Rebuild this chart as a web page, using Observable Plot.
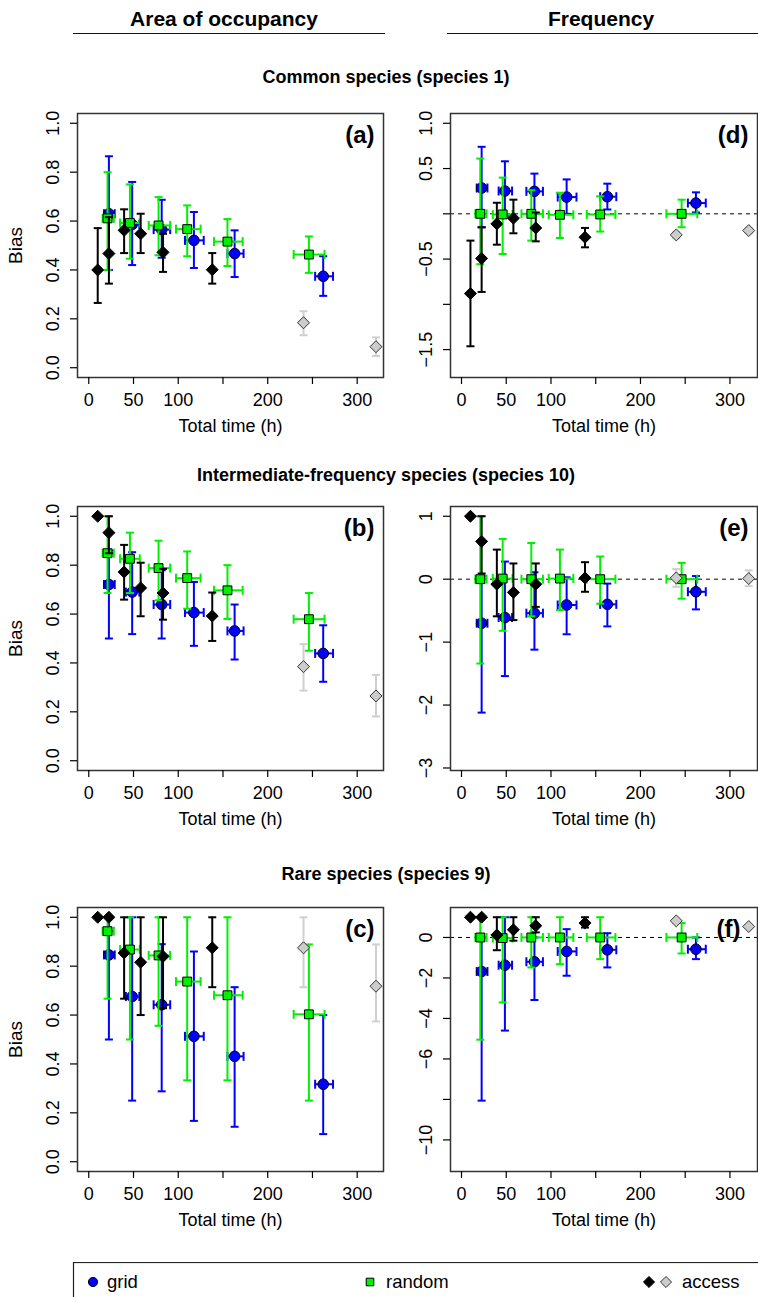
<!DOCTYPE html>
<html><head><meta charset="utf-8">
<script src="https://cdn.jsdelivr.net/npm/d3@7"></script>
<script src="https://cdn.jsdelivr.net/npm/@observablehq/plot@0.6"></script>
<style>
body{margin:0;background:#fff;}
#fig{position:relative;width:758px;height:1297px;font-family:"Liberation Sans",Arial,sans-serif;overflow:hidden;background:#fff;color:#000;}
</style></head><body><div id="fig"></div>
<script>
// ---------- data ----------
const colHeaders = ["Area of occupancy", "Frequency"];
const rowTitles = ["Common species (species 1)", "Intermediate-frequency species (species 10)", "Rare species (species 9)"];
const panelLetters = ["(a)", "(b)", "(c)", "(d)", "(e)", "(f)"];
const xTicks = [0, 50, 100, 150, 200, 250, 300];
const xTickLabels = [0, 50, 100, 200, 300];
const legendLabels = ["grid", "random", "access"];

// total time (h) per design
const gridTime = [22.5, 48.5, 81.5, 117.5, 163, 262];
const gridTimeLo = [17, 41.5, 72.5, 107.5, 155, 253];
const gridTimeHi = [29, 56.5, 91, 128.5, 173, 273];
const randomTime = [21, 46, 78, 110, 155, 246];
const randomTimeLo = [15.5, 35, 67, 97.5, 140, 229];
const randomTimeHi = [28, 57, 91, 125, 172, 263.5];
const accessTime = [10, 22.5, 39.5, 58, 83, 138, 240, 321];
const accessGrey = [false, false, false, false, false, false, true, true];

// (a) area of occupancy, common species
const gridA = [0.63, 0.586, 0.565, 0.521, 0.467, 0.374];
const gridALo = [0.40, 0.42, 0.45, 0.408, 0.371, 0.294];
const gridAHi = [0.865, 0.76, 0.687, 0.637, 0.562, 0.456];
const randomA = [0.611, 0.592, 0.582, 0.567, 0.516, 0.463];
const randomALo = [0.40, 0.446, 0.46, 0.456, 0.416, 0.388];
const randomAHi = [0.80, 0.75, 0.698, 0.664, 0.608, 0.537];
const accessA = [0.40, 0.467, 0.562, 0.548, 0.472, 0.401, 0.184, 0.086];
const accessALo = [0.265, 0.344, 0.469, 0.469, 0.392, 0.344, 0.133, 0.048];
const accessAHi = [0.571, 0.616, 0.648, 0.63, 0.548, 0.469, 0.231, 0.124];

// (b) area of occupancy, intermediate species
const gridB = [0.721, 0.69, 0.639, 0.606, 0.531, 0.439];
const gridBLo = [0.50, 0.518, 0.50, 0.47, 0.414, 0.323];
const gridBHi = [0.86, 0.853, 0.779, 0.731, 0.639, 0.554];
const randomB = [0.849, 0.826, 0.788, 0.747, 0.697, 0.579];
const randomBLo = [0.686, 0.686, 0.656, 0.622, 0.58, 0.45];
const randomBHi = [1.0, 0.933, 0.90, 0.856, 0.80, 0.686];
const accessB = [1.0, 0.933, 0.772, 0.707, 0.686, 0.592, 0.385, 0.265];
const accessBLo = [1.0, 0.849, 0.659, 0.591, 0.577, 0.49, 0.287, 0.181];
const accessBHi = [1.0, 1.0, 0.883, 0.81, 0.785, 0.688, 0.477, 0.351];

// (c) area of occupancy, rare species
const gridC = [0.846, 0.676, 0.642, 0.513, 0.431, 0.317];
const gridCLo = [0.50, 0.25, 0.288, 0.167, 0.143, 0.113];
const gridCHi = [1.0, 1.0, 0.89, 0.86, 0.714, 0.60];
const randomC = [0.943, 0.868, 0.844, 0.737, 0.681, 0.603];
const randomCLo = [0.667, 0.50, 0.556, 0.333, 0.333, 0.25];
const randomCHi = [1.0, 1.0, 1.0, 1.0, 1.0, 0.889];
const accessC = [1.0, 1.0, 0.854, 0.816, 0.84, 0.875, 0.875, 0.718];
const accessCLo = [1.0, 1.0, 0.667, 0.60, 0.628, 0.714, 0.714, 0.574];
const accessCHi = [1.0, 1.0, 1.0, 1.0, 1.0, 1.0, 1.0, 0.889];

// (d) frequency, common species
const gridD = [0.285, 0.252, 0.248, 0.185, 0.189, 0.119];
const gridDLo = [-0.15, -0.02, 0.0, 0.0, 0.048, 0.015];
const gridDHi = [0.74, 0.58, 0.444, 0.38, 0.333, 0.237];
const randomD = [0.0, -0.007, 0.0, -0.011, -0.007, 0.0];
const randomDLo = [-0.556, -0.444, -0.296, -0.267, -0.196, -0.148];
const randomDHi = [0.61, 0.40, 0.26, 0.233, 0.193, 0.156];
const accessD = [-0.881, -0.493, -0.111, -0.048, -0.156, -0.259, -0.233, -0.185];
const accessDLo = [-1.463, -0.863, -0.341, -0.215, -0.304, -0.37, -0.27, -0.215];
const accessDHi = [-0.296, -0.148, 0.122, 0.156, 0.015, -0.156, -0.2, -0.155];

// (e) frequency, intermediate species
const gridE = [-0.70, -0.61, -0.54, -0.41, -0.40, -0.20];
const gridELo = [-2.12, -1.54, -1.12, -0.875, -0.75, -0.48];
const gridEHi = [0.05, 0.28, 0.11, 0.03, -0.07, 0.05];
const randomE = [0, 0.01, 0, 0.01, 0, 0];
const randomELo = [-1.34, -0.82, -0.59, -0.49, -0.39, -0.31];
const randomEHi = [1.0, 0.64, 0.575, 0.47, 0.36, 0.26];
const accessE = [1.0, 0.60, -0.08, -0.21, -0.08, 0.02, 0.02, 0.01];
const accessELo = [1.0, 0.09, -0.59, -0.65, -0.44, -0.20, -0.12, -0.11];
const accessEHi = [1.0, 1.0, 0.47, 0.25, 0.25, 0.27, 0.16, 0.14];

// (f) frequency, rare species
const gridF = [-1.68, -1.37, -1.2, -0.69, -0.61, -0.58];
const gridFLo = [-8.06, -4.6, -3.09, -1.89, -1.48, -1.07];
const gridFHi = [0.0, 1.0, 0.0, 0.41, 0.21, 0.0];
const randomF = [0, -0.03, 0, 0, 0, 0];
const randomFLo = [-5.05, -3.21, -1.48, -1.32, -1.07, -0.79];
const randomFHi = [1.0, 1.0, 1.0, 1.0, 1.0, 0.71];
const accessF = [1.0, 1.0, 0.12, 0.38, 0.58, 0.71, 0.82, 0.54];
const accessFLo = [1.0, 1.0, -0.63, -0.16, 0.25, 0.49, 0.75, 0.48];
const accessFHi = [1.0, 1.0, 1.0, 1.0, 1.0, 1.0, 0.9, 0.6];

// y axes
const yTicksAOO = [0, 0.2, 0.4, 0.6, 0.8, 1.0];
const yTicksD = [-1.5, -1, -0.5, 0, 0.5, 1];
const yLabelsD = [-1.5, -0.5, 0.5, 1];
const yTicksE = [-3, -2, -1, 0, 1];
const yTicksF = [-10, -8, -6, -4, -2, 0];
const yLabelsF = [-10, -6, -4, -2, 0];

// ---------- styles ----------
const BLUE = "#0000ff", GREEN = "#00f000", GREY = "#cfcfcf";
const fmtMinus = s => s.replace("-", "\u2212");
const hcap = {draw(ctx, size) { const r = Math.sqrt(size / Math.PI); ctx.moveTo(-r, 0); ctx.lineTo(r, 0); }};
const vcap = {draw(ctx, size) { const r = Math.sqrt(size / Math.PI); ctx.moveTo(0, -r); ctx.lineTo(0, r); }};

const fig = document.getElementById("fig");
function addText(txt, x, y, size, bold) {
  const d = document.createElement("div");
  d.textContent = txt;
  d.style.cssText = `position:absolute;left:${x}px;top:${y}px;transform:translate(-50%,-50%);font-size:${size}px;font-weight:${bold ? "bold" : "normal"};white-space:nowrap;line-height:1;`;
  fig.appendChild(d);
}
function addLine(x1, x2, y) {
  const d = document.createElement("div");
  d.style.cssText = `position:absolute;left:${x1}px;top:${y}px;width:${x2 - x1}px;height:0;border-top:1.5px solid #111;`;
  fig.appendChild(d);
}

function series(time, lo, hi, v, vlo, vhi) {
  return time.map((t, i) => ({t, tlo: lo ? lo[i] : t, thi: hi ? hi[i] : t, v: v[i], lo: vlo[i], hi: vhi[i]}));
}

function errMarks(rows, color, withH) {
  const vb = rows.filter(d => d.hi - d.lo > 1e-9);
  const m = [
    Plot.ruleX(vb, {x: "t", y1: "lo", y2: "hi", stroke: color, strokeWidth: 2}),
    Plot.dot(vb, {x: "t", y: "lo", symbol: hcap, r: 4, stroke: color, fill: "none", strokeWidth: 2}),
    Plot.dot(vb, {x: "t", y: "hi", symbol: hcap, r: 4, stroke: color, fill: "none", strokeWidth: 2})
  ];
  if (withH) {
    m.push(
      Plot.ruleY(rows, {y: "v", x1: "tlo", x2: "thi", stroke: color, strokeWidth: 2}),
      Plot.dot(rows, {x: "tlo", y: "v", symbol: vcap, r: 4.5, stroke: color, fill: "none", strokeWidth: 2}),
      Plot.dot(rows, {x: "thi", y: "v", symbol: vcap, r: 4.5, stroke: color, fill: "none", strokeWidth: 2})
    );
  }
  return m;
}

function panel(cfg) {
  const left = cfg.col === 0;
  const grid = series(gridTime, gridTimeLo, gridTimeHi, cfg.g, cfg.gLo, cfg.gHi);
  const rand = series(randomTime, randomTimeLo, randomTimeHi, cfg.r, cfg.rLo, cfg.rHi);
  const acc = series(accessTime, null, null, cfg.a, cfg.aLo, cfg.aHi).map((d, i) => ({...d, grey: accessGrey[i]}));
  const accBlack = acc.filter(d => !d.grey), accGrey = acc.filter(d => d.grey);
  const marks = [
    cfg.freq ? Plot.ruleY([0], {stroke: "#000", strokeWidth: 1, strokeDasharray: "4,4"}) : null,
    ...errMarks(grid, BLUE, true),
    Plot.dot(grid, {x: "t", y: "v", symbol: "circle", r: 5.3, fill: BLUE, stroke: "#000", strokeWidth: 1}),
    ...errMarks(rand, GREEN, true),
    Plot.dot(rand, {x: "t", y: "v", symbol: "square", r: 5, fill: GREEN, stroke: "#000", strokeWidth: 1}),
    ...errMarks(accBlack, "#000", false),
    ...errMarks(accGrey, GREY, false),
    Plot.dot(accBlack, {x: "t", y: "v", symbol: "diamond2", r: 5.4, fill: "#000", stroke: "#000", strokeWidth: 1}),
    Plot.dot(accGrey, {x: "t", y: "v", symbol: "diamond2", r: 5.4, fill: "#cccccc", stroke: "#333", strokeWidth: 1}),
    Plot.frame({stroke: "#333", strokeWidth: 1.5}),
    Plot.axisX({ticks: xTicks, tickFormat: d => xTickLabels.includes(d) ? String(d) : "", tickSize: 7, tickPadding: 9, label: null, fontSize: 18, strokeWidth: 1.2}),
    Plot.axisY({ticks: cfg.yTicks, tickFormat: () => "", tickSize: 7, label: null, strokeWidth: 1.2}),
    Plot.text(cfg.yLabels, {y: d => d, text: cfg.yFmt, frameAnchor: "left", dx: -24, rotate: -90, textAnchor: "middle", lineAnchor: "middle", fontSize: 18}),
    Plot.text(["Total time (h)"], {frameAnchor: "bottom", dy: 49, lineAnchor: "middle", fontSize: 18}),
    left ? Plot.text(["Bias"], {frameAnchor: "left", dx: -62, rotate: -90, textAnchor: "middle", lineAnchor: "middle", fontSize: 19}) : null,
    Plot.text([cfg.letter], {frameAnchor: "top-right", dx: cfg.letterDx ?? -9, dy: 22, textAnchor: "end", lineAnchor: "middle", fontSize: 24, fontWeight: "bold"})
  ].filter(Boolean);
  const svg = Plot.plot({
    width: left ? 385 : 378,
    height: 337,
    marginLeft: left ? 77 : 70,
    marginRight: left ? 2 : 1,
    marginTop: 13,
    marginBottom: 60,
    x: {domain: left ? [-12.6, 329.4] : [-12.3, 330.8]},
    y: {domain: cfg.yDomain},
    style: {fontFamily: '"Liberation Sans", Arial, sans-serif', fontSize: "18px", background: "transparent", color: "#000", overflow: "visible"},
    marks
  });
  svg.style.position = "absolute";
  svg.style.left = (left ? 0 : 380) + "px";
  svg.style.top = cfg.top + "px";
  fig.appendChild(svg);
}

const rowTop = [100, 493, 894];
const fmtAOO = d => d.toFixed(1);
panel({col: 0, top: rowTop[0], letter: panelLetters[0], g: gridA, gLo: gridALo, gHi: gridAHi, r: randomA, rLo: randomALo, rHi: randomAHi, a: accessA, aLo: accessALo, aHi: accessAHi, yDomain: [-0.04, 1.04], yTicks: yTicksAOO, yLabels: yTicksAOO, yFmt: fmtAOO});
panel({col: 0, top: rowTop[1], letter: panelLetters[1], g: gridB, gLo: gridBLo, gHi: gridBHi, r: randomB, rLo: randomBLo, rHi: randomBHi, a: accessB, aLo: accessBLo, aHi: accessBHi, yDomain: [-0.04, 1.04], yTicks: yTicksAOO, yLabels: yTicksAOO, yFmt: fmtAOO});
panel({col: 0, top: rowTop[2], letter: panelLetters[2], g: gridC, gLo: gridCLo, gHi: gridCHi, r: randomC, rLo: randomCLo, rHi: randomCHi, a: accessC, aLo: accessCLo, aHi: accessCHi, yDomain: [-0.04, 1.04], yTicks: yTicksAOO, yLabels: yTicksAOO, yFmt: fmtAOO});
panel({col: 1, top: rowTop[0], letter: panelLetters[3], freq: true, g: gridD, gLo: gridDLo, gHi: gridDHi, r: randomD, rLo: randomDLo, rHi: randomDHi, a: accessD, aLo: accessDLo, aHi: accessDHi, yDomain: [-1.808, 1.108], yTicks: yTicksD, yLabels: yLabelsD, yFmt: d => fmtMinus(d.toFixed(1))});
panel({col: 1, top: rowTop[1], letter: panelLetters[4], freq: true, g: gridE, gLo: gridELo, gHi: gridEHi, r: randomE, rLo: randomELo, rHi: randomEHi, a: accessE, aLo: accessELo, aHi: accessEHi, yDomain: [-3.04, 1.155], yTicks: yTicksE, yLabels: yTicksE, yFmt: d => fmtMinus(String(d))});
panel({col: 1, top: rowTop[2], letter: panelLetters[5], letterDx: -17, freq: true, g: gridF, gLo: gridFLo, gHi: gridFHi, r: randomF, rLo: randomFLo, rHi: randomFHi, a: accessF, aLo: accessFLo, aHi: accessFHi, yDomain: [-11.56, 1.48], yTicks: yTicksF, yLabels: yLabelsF, yFmt: d => fmtMinus(String(d))});

// headers
addText(colHeaders[0], 224, 18, 21, true);
addText(colHeaders[1], 601, 18, 21, true);
addLine(73, 385, 33);
addLine(447, 758, 33);
addText(rowTitles[0], 386, 77, 18, true);
addText(rowTitles[1], 386, 475, 18, true);
addText(rowTitles[2], 386, 874, 18, true);

// legend
const lg = d3.create("svg").attr("width", 758).attr("height", 40)
  .style("position", "absolute").style("left", "0px").style("top", "1262px")
  .style("font-family", '"Liberation Sans", Arial, sans-serif').style("font-size", "18.5px");
lg.append("rect").attr("x", 73.5).attr("y", 0.5).attr("width", 720).attr("height", 80).attr("fill", "none").attr("stroke", "#222").attr("stroke-width", 1.2);
const cy = 20;
lg.append("path").attr("transform", `translate(93,${cy})`).attr("d", d3.symbol(d3.symbolCircle, 4.6 * 4.6 * Math.PI)()).attr("fill", BLUE).attr("stroke", "#000");
lg.append("text").attr("x", 107).attr("y", cy).attr("dy", "0.35em").text(legendLabels[0]);
lg.append("path").attr("transform", `translate(370,${cy})`).attr("d", d3.symbol(d3.symbolSquare, 4.3 * 4.3 * Math.PI)()).attr("fill", GREEN).attr("stroke", "#000");
lg.append("text").attr("x", 386).attr("y", cy).attr("dy", "0.35em").text(legendLabels[1]);
lg.append("path").attr("transform", `translate(649,${cy})`).attr("d", d3.symbol(d3.symbolDiamond2, 5 * 5 * Math.PI)()).attr("fill", "#000").attr("stroke", "#000");
lg.append("path").attr("transform", `translate(666,${cy})`).attr("d", d3.symbol(d3.symbolDiamond2, 5 * 5 * Math.PI)()).attr("fill", "#cccccc").attr("stroke", "#333");
lg.append("text").attr("x", 682).attr("y", cy).attr("dy", "0.35em").text(legendLabels[2]);
fig.appendChild(lg.node());
</script></body></html>
